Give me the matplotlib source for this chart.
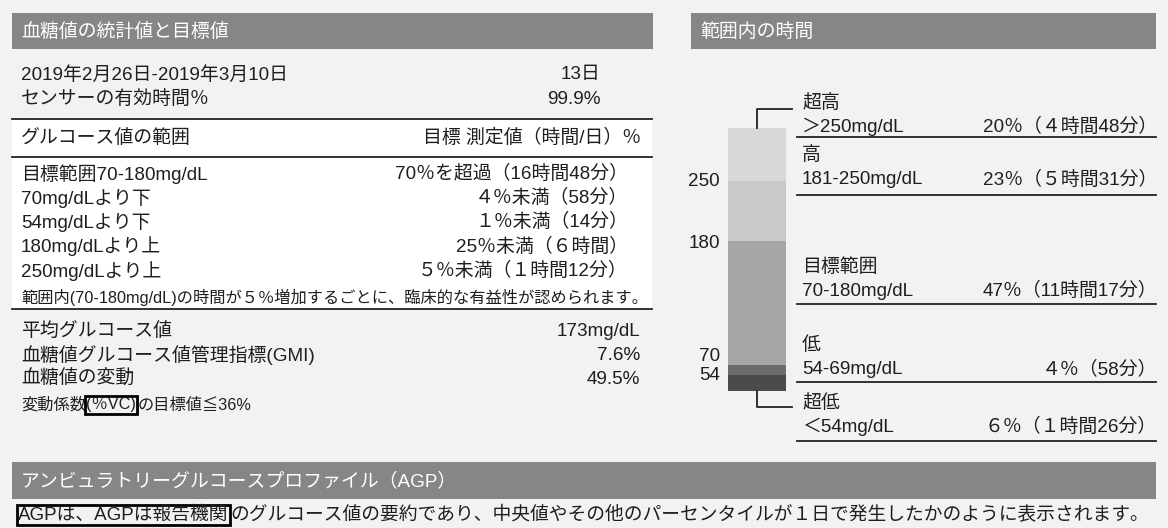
import matplotlib
matplotlib.use("Agg")
import matplotlib.pyplot as plt
from matplotlib.patches import Rectangle
from matplotlib.lines import Line2D

plt.rcParams['font.family'] = ['Liberation Sans', 'Noto Sans CJK JP', 'DejaVu Sans']

# ---------------- data ----------------
left_title = "血糖値の統計値と目標値"
right_title = "範囲内の時間"
bottom_title = "アンビュラトリーグルコースプロファイル（AGP）"

summary_labels = ["2019年2月26日-2019年3月10日", "センサーの有効時間％"]
summary_values = ["13日", "99.9%"]

range_head = ["グルコース値の範囲", "目標 測定値（時間/日）％"]
range_labels = ["目標範囲70-180mg/dL", "70mg/dLより下", "54mg/dLより下",
                "180mg/dLより上", "250mg/dLより上"]
range_targets = ["70％を超過（16時間48分）", "４％未満（58分）", "１％未満（14分）",
                 "25％未満（６時間）", "５％未満（１時間12分）"]
range_note = "範囲内(70-180mg/dL)の時間が５％増加するごとに、臨床的な有益性が認められます。"

stats_labels = ["平均グルコース値", "血糖値グルコース値管理指標(GMI)", "血糖値の変動"]
stats_values = ["173mg/dL", "7.6%", "49.5%"]
cv_note = ["変動係数", "(％VC)", "の目標値≦36%"]

tir_names = ["超低", "低", "目標範囲", "高", "超高"]
tir_ranges = ["＜54mg/dL", "54-69mg/dL", "70-180mg/dL", "181-250mg/dL", "＞250mg/dL"]
tir_pct = [6, 4, 47, 23, 20]
tir_time = ["（１時間26分）", "（58分）", "（11時間17分）", "（５時間31分）", "（４時間48分）"]
boundary_labels = ["54", "70", "180", "250"]

agp_text = ["AGPは、AGPは報告機関",
            "のグルコース値の要約であり、中央値やその他のパーセンタイルが１日で発生したかのように表示されます。"]

# ---------------- style ----------------
W, H = 1168, 528
BG = "#f2f2f2"
HEAD = "#868686"
TXT = "#1e1e1e"
FS = 13.6
FS_S = 11.7
FS_B = 13.5
seg_colors = ["#4b4b4b", "#6c6c6c", "#a6a6a6", "#c9c9c9", "#d8d8d8"]
FULLW = "０１２３４５６７８９"

fig = plt.figure(figsize=(W / 100, H / 100), dpi=100, facecolor=BG)

# bar axes (stacked time-in-range bar)
bx0, bx1, by0, by1 = 728, 786, 128, 391
axb = fig.add_axes([bx0 / W, 1 - by1 / H, (bx1 - bx0) / W, (by1 - by0) / H])
axb.set_xlim(-0.5, 0.5)
axb.set_ylim(0, sum(tir_pct))
axb.axis("off")
bottom = 0
cum = []
for p, c in zip(tir_pct, seg_colors):
    axb.bar(0, p, bottom=bottom, width=1.0, color=c, edgecolor="none")
    bottom += p
    cum.append(bottom)
label_va = ["center", "bottom", "center", "center"]
label_dy = [0, 0, -2, -1]
for lab, yv, va, dy in zip(boundary_labels, cum[:4], label_va, label_dy):
    axb.annotate(lab, xy=(0, yv), xycoords=("axes fraction", "data"),
                 xytext=(-8, dy), textcoords="offset pixels",
                 ha="right", va=va, fontsize=FS, color=TXT)

# overlay axes in pixel coordinates for layout
ax = fig.add_axes([0, 0, 1, 1])
ax.set_xlim(0, W)
ax.set_ylim(H, 0)
ax.axis("off")
ax.patch.set_alpha(0)


def hline(x0, x1, y, lw=1.3, color="#222222"):
    ax.add_line(Line2D([x0, x1], [y, y], lw=lw, color=color))


def txt(x, y, s, ha="left", fs=FS, color=TXT, **kw):
    return ax.text(x, y, s, ha=ha, va="center", fontsize=fs, color=color, **kw)


# headers
ax.add_patch(Rectangle((12, 13), 641, 36, color=HEAD, lw=0))
txt(21, 32, left_title, color="white")
ax.add_patch(Rectangle((691, 13), 465, 36, color=HEAD, lw=0))
txt(700, 32, right_title, color="white")
ax.add_patch(Rectangle((12, 462), 1144, 37, color=HEAD, lw=0))
txt(21, 481, bottom_title, color="white")

# left panel
for i, (l, v) in enumerate(zip(summary_labels, summary_values)):
    y = 75 + 24 * i
    txt(21, y, l)
    txt(601, y, v, ha="right")

ax.add_patch(Rectangle((12, 119), 640, 190, color="white", lw=0))
hline(12, 652, 119)
txt(21, 138, range_head[0])
txt(641, 138, range_head[1], ha="right")
hline(12, 652, 157)
for i, (l, v) in enumerate(zip(range_labels, range_targets)):
    y = 174 + 24.2 * i
    txt(21, y, l)
    txt(628, y, v, ha="right")
txt(21, 297, range_note, fs=FS_S)
hline(12, 652, 309)

for i, (l, v) in enumerate(zip(stats_labels, stats_values)):
    y = 331 + 24 * i
    txt(21, y, l)
    txt(640, y, v, ha="right")

fig.canvas.draw()
renderer = fig.canvas.get_renderer()


def seq(x, y, segs, boxed, fs):
    for k, s in enumerate(segs):
        kw = {}
        if k in boxed:
            kw["bbox"] = dict(boxstyle="square,pad=0.08", fc="none", ec="black", lw=2)
        t = txt(x, y, s, fs=fs, **kw)
        bb = t.get_window_extent(renderer)
        x = ax.transData.inverted().transform((bb.x1, bb.y0))[0]
        if k in boxed:
            x += 2


seq(21, 405, cv_note, [1], FS_S)
seq(18, 515, agp_text, [0], FS_B)

# right panel labels
row_y = [(403, 427, 441), (345, 369, 382), (267, 291, 304), (155, 180, 195), (103, 127, 137)]
for (y1, y2, yl), n, r, p, t in zip(row_y, tir_names, tir_ranges, tir_pct, tir_time):
    txt(802, y1, n)
    txt(802, y2, r)
    pct = str(p) if p >= 10 else FULLW[p]
    txt(1157, y2, f"{pct}％{t}", ha="right")
    hline(797, 1156, yl)

# brackets from bar top / bottom
ax.add_line(Line2D([757, 757, 792], [by0, 109, 109], lw=1.3, color="#222222"))
ax.add_line(Line2D([757, 757, 792], [by1, 407, 407], lw=1.3, color="#222222"))

fig.savefig("out.png", dpi=100, facecolor=BG)
